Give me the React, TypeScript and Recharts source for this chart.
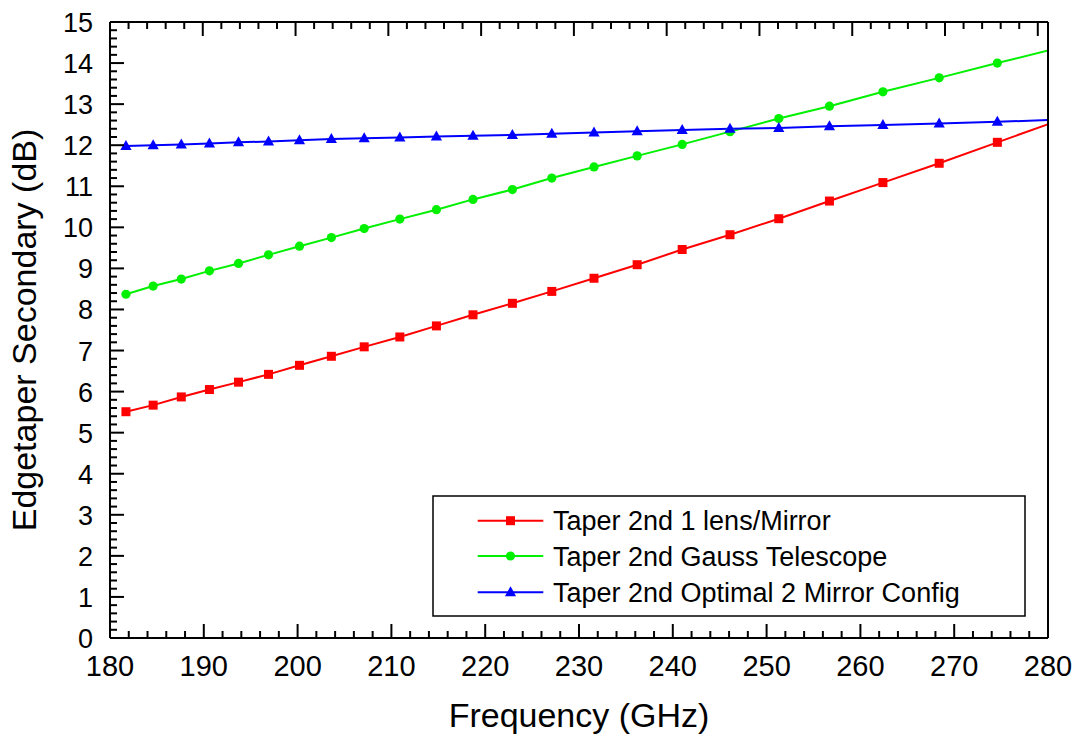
import React from "react";
import { LineChart, Line, XAxis, YAxis } from "recharts";

// frequency points (GHz), shared by all three curves
const FREQ_GHZ = [
  181.7, 184.6, 187.6, 190.6, 193.7, 196.9, 200.2, 203.6, 207.1, 210.9, 214.8, 218.7,
  222.9, 227.1, 231.6, 236.2, 241.0, 246.1, 251.3, 256.7, 262.4, 268.4, 274.6, 281.1,
];
const TAPER_LENS = [
  5.51, 5.67, 5.87, 6.05, 6.23, 6.42, 6.64, 6.86, 7.09, 7.33, 7.6, 7.87,
  8.15, 8.44, 8.76, 9.09, 9.46, 9.82, 10.21, 10.64, 11.09, 11.56, 12.07, 12.6,
];
const TAPER_GAUSS = [
  8.37, 8.57, 8.74, 8.94, 9.12, 9.33, 9.54, 9.75, 9.97, 10.2, 10.43, 10.68,
  10.92, 11.2, 11.47, 11.74, 12.02, 12.33, 12.65, 12.95, 13.3, 13.64, 14.0, 14.37,
];
const TAPER_OPTIMAL = [
  11.98, 12.0, 12.02, 12.04, 12.07, 12.09, 12.12, 12.15, 12.17, 12.19, 12.21, 12.23,
  12.25, 12.28, 12.31, 12.34, 12.37, 12.4, 12.42, 12.46, 12.49, 12.53, 12.57, 12.62,
];

const X_MAJOR = [180, 190, 200, 210, 220, 230, 240, 250, 260, 270, 280];
const Y_MAJOR = [0, 1, 2, 3, 4, 5, 6, 7, 8, 9, 10, 11, 12, 13, 14, 15];

const FONT = "Liberation Sans";

const SERIES = [
  { key: "lens", name: "Taper 2nd 1 lens/Mirror", color: "#ff0000", shape: "square" },
  { key: "gauss", name: "Taper 2nd Gauss Telescope", color: "#00f000", shape: "circle" },
  { key: "optimal", name: "Taper 2nd Optimal 2 Mirror Config", color: "#0000ff", shape: "triangle" },
];

const data = FREQ_GHZ.map((f, i) => ({
  f,
  lens: TAPER_LENS[i],
  gauss: TAPER_GAUSS[i],
  optimal: TAPER_OPTIMAL[i],
}));

const withMinor = (majors: number[]) => {
  const out: number[] = [];
  for (let i = 0; i < majors.length - 1; i++) {
    const step = (majors[i + 1] - majors[i]) / 5;
    for (let k = 0; k < 5; k++) out.push(Math.round((majors[i] + k * step) * 100) / 100);
  }
  out.push(majors[majors.length - 1]);
  return out;
};
const xTicks = withMinor(X_MAJOR);
const yTicks = withMinor(Y_MAJOR);
const isMajor = (v: number, majors: number[]) => majors.some((m) => Math.abs(m - v) < 1e-6);

// same pattern as the tick renderer that drew correctly
const tk = (dir: string, majors: number[], label: string) => (props: any) => {
  const x = Number(props.x);
  const y = Number(props.y);
  const v = props.payload.value;
  const major = isMajor(v, majors);
  const len = major ? 14 : 7;
  let d = "";
  if (dir === "up") d = `M${x},${y}V${y - len}`;
  if (dir === "down") d = `M${x},${y}V${y + len}`;
  if (dir === "right") d = `M${x},${y}H${x + len}`;
  if (dir === "left") d = `M${x},${y}H${x - len}`;
  return (
    <g>
      <path d={d} stroke="#000" strokeWidth={2} />
      {major && label === "x" ? (
        <text x={x} y={y + 38} textAnchor="middle" fontSize={29} fontFamily={FONT}>
          {v}
        </text>
      ) : null}
      {major && label === "y" ? (
        <text x={x - 17} y={y + 10} textAnchor="end" fontSize={27} fontFamily={FONT}>
          {v}
        </text>
      ) : null}
    </g>
  );
};

function Marker(props: any) {
  const { cx, cy, shape, color } = props;
  if (cx == null || cy == null) return <g />;
  if (shape === "square") return <rect x={cx - 4.5} y={cy - 4.5} width={9} height={9} fill={color} />;
  if (shape === "circle") return <circle cx={cx} cy={cy} r={4.6} fill={color} />;
  return <polygon points={`${cx},${cy - 6} ${cx - 5.6},${cy + 4} ${cx + 5.6},${cy + 4}`} fill={color} />;
}

function Overlay() {
  const rows = [520.7, 556, 592.3];
  return (
    <svg width={1077} height={738} style={{ position: "absolute", left: 0, top: 0, pointerEvents: "none" }}>
      <rect x={433} y={496} width={592} height={120} fill="#fff" stroke="#000" strokeWidth={1.5} />
      {SERIES.map((s, i) => (
        <g key={s.key}>
          <line x1={477.7} x2={543.3} y1={rows[i]} y2={rows[i]} stroke={s.color} strokeWidth={2} />
          <Marker cx={510.5} cy={rows[i]} shape={s.shape} color={s.color} />
          <text x={553} y={rows[i] + 9.5} fontSize={27} fontFamily={FONT}>
            {s.name}
          </text>
        </g>
      ))}
      <text x={579} y={727} textAnchor="middle" fontSize={34} fontFamily={FONT}>
        Frequency (GHz)
      </text>
      <text x={36} y={330} transform="rotate(-90, 36, 330)" textAnchor="middle" fontSize={34} fontFamily={FONT}>
        Edgetaper Secondary (dB)
      </text>
    </svg>
  );
}

export default function App() {
  return (
    <div style={{ position: "absolute", left: 0, top: 0 }}>
      <LineChart width={1077} height={738} data={data} margin={{ top: 21, right: 28, bottom: 0, left: 0 }}>
        <XAxis dataKey="f" type="number" domain={[180, 280]} allowDataOverflow ticks={xTicks} interval={0} height={100}
          tickSize={0} tickMargin={0} tickLine={false} tick={tk("up", X_MAJOR, "x")} axisLine={{ stroke: "#000", strokeWidth: 2 }} />
        <XAxis xAxisId="top" orientation="top" dataKey="f" type="number" domain={[180, 280]} ticks={xTicks}
          interval={0} height={1} tickSize={0} tickMargin={0} tickLine={false} tick={tk("down", X_MAJOR, "")} axisLine={{ stroke: "#000", strokeWidth: 2 }} />
        <YAxis type="number" domain={[0, 15]} allowDataOverflow ticks={yTicks} interval={0} width={110}
          tickSize={0} tickMargin={0} tickLine={false} tick={tk("right", Y_MAJOR, "y")} axisLine={{ stroke: "#000", strokeWidth: 2 }} />
        <YAxis yAxisId="r" orientation="right" type="number" domain={[0, 15]} ticks={yTicks} interval={0} width={1}
          tickSize={0} tickMargin={0} tickLine={false} tick={tk("left", Y_MAJOR, "")} axisLine={{ stroke: "#000", strokeWidth: 2 }} />
        {SERIES.map((s) => (
          <Line
            key={s.key}
            dataKey={s.key}
            name={s.name}
            stroke={s.color}
            strokeWidth={2}
            dot={(p: any) => <Marker key={`${s.key}-${p.index}`} cx={p.cx} cy={p.cy} shape={s.shape} color={s.color} />}
            isAnimationActive={false}
          />
        ))}
      </LineChart>
      <Overlay />
    </div>
  );
}
